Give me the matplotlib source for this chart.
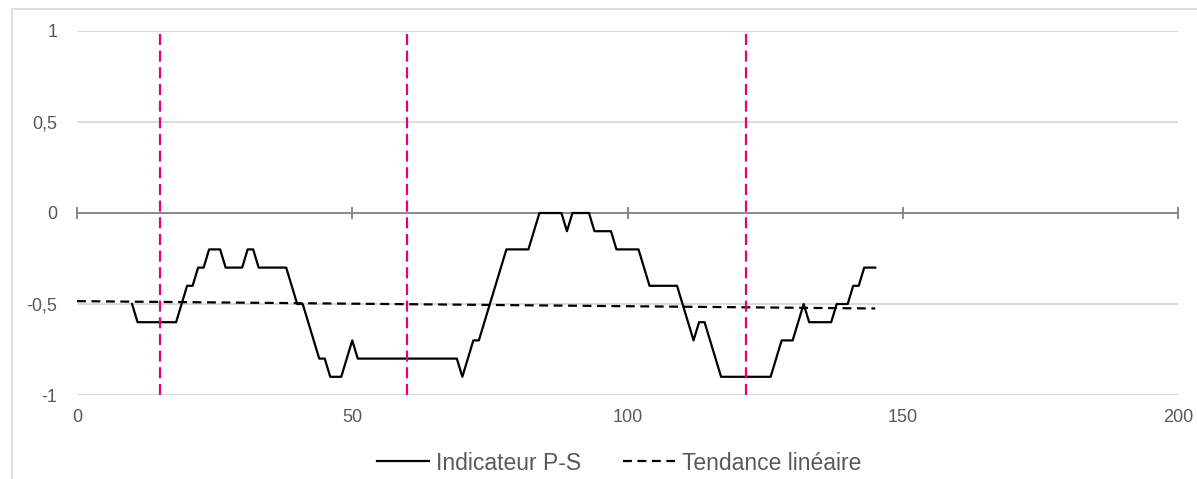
import numpy as np
import matplotlib
matplotlib.use("Agg")
import matplotlib.pyplot as plt
from matplotlib.patches import Rectangle

plt.rcParams['font.family'] = ['Liberation Sans', 'DejaVu Sans']

# Indicateur P-S, one value per step from x=10 to x=145
ps_x = list(range(10, 146))
ps_y = [
    -0.5, -0.6, -0.6, -0.6, -0.6, -0.6, -0.6, -0.6, -0.6, -0.5,   # 10-19
    -0.4, -0.4, -0.3, -0.3, -0.2, -0.2, -0.2, -0.3, -0.3, -0.3,   # 20-29
    -0.3, -0.2, -0.2, -0.3, -0.3, -0.3, -0.3, -0.3, -0.3, -0.4,   # 30-39
    -0.5, -0.5, -0.6, -0.7, -0.8, -0.8, -0.9, -0.9, -0.9, -0.8,   # 40-49
    -0.7, -0.8, -0.8, -0.8, -0.8, -0.8, -0.8, -0.8, -0.8, -0.8,   # 50-59
    -0.8, -0.8, -0.8, -0.8, -0.8, -0.8, -0.8, -0.8, -0.8, -0.8,   # 60-69
    -0.9, -0.8, -0.7, -0.7, -0.6, -0.5, -0.4, -0.3, -0.2, -0.2,   # 70-79
    -0.2, -0.2, -0.2, -0.1, 0.0, 0.0, 0.0, 0.0, 0.0, -0.1,        # 80-89
    0.0, 0.0, 0.0, 0.0, -0.1, -0.1, -0.1, -0.1, -0.2, -0.2,       # 90-99
    -0.2, -0.2, -0.2, -0.3, -0.4, -0.4, -0.4, -0.4, -0.4, -0.4,   # 100-109
    -0.5, -0.6, -0.7, -0.6, -0.6, -0.7, -0.8, -0.9, -0.9, -0.9,   # 110-119
    -0.9, -0.9, -0.9, -0.9, -0.9, -0.9, -0.9, -0.8, -0.7, -0.7,   # 120-129
    -0.7, -0.6, -0.5, -0.6, -0.6, -0.6, -0.6, -0.6, -0.5, -0.5,   # 130-139
    -0.5, -0.4, -0.4, -0.3, -0.3, -0.3,                           # 140-145
]

# linear trend drawn from 0 to the last point
trend_x = [0, 145]

# pink markers
marker_x = [15, 60, 121.5]

x_ticks = [0, 50, 100, 150, 200]
y_ticks = [-1, -0.5, 0, 0.5, 1]
y_labels = ['-1', '-0,5', '0', '0,5', '1']

fig = plt.figure(figsize=(11.97, 4.79), dpi=100)
ax = fig.add_axes([77 / 1197, 1 - 395 / 479, (1178 - 77) / 1197, (395 - 31) / 479])

# chart area border (only left and top visible in the crop)
fig.patches.append(Rectangle((12 / 1197, -0.1), 1.2, 1.1 - 9 / 479,
                             transform=fig.transFigure, fill=False,
                             edgecolor='#d9d9d9', linewidth=1.2, zorder=0))

ax.set_xlim(0, 200)
ax.set_ylim(-1, 1)

for yv in y_ticks:
    if yv != 0:
        ax.axhline(yv, color='#d9d9d9', linewidth=1.3, zorder=1)

for s in ax.spines.values():
    s.set_visible(False)

ax.set_xticks(x_ticks)
ax.set_xticklabels([str(v) for v in x_ticks])
ax.set_yticks(y_ticks)
ax.set_yticklabels(y_labels)
ax.tick_params(axis='both', length=0, labelsize=13, labelcolor='#595959')
ax.tick_params(axis='x', pad=10)
ax.tick_params(axis='y', pad=14)

# horizontal axis drawn at y=0 with crossing ticks
sec = ax.secondary_xaxis(0.5)
for s in sec.spines.values():
    s.set_color('#808080')
    s.set_linewidth(1.3)
sec.set_xticks(x_ticks)
sec.set_xticklabels([])
sec.tick_params(axis='x', direction='inout', length=9, width=1.3,
                color='#808080', labelbottom=False, labeltop=False)

ps_line, = ax.plot(ps_x, ps_y, color='black', linewidth=1.6, zorder=4,
                   label='Indicateur P-S')

coef = np.polyfit(ps_x, ps_y, 1)
trend_y = np.polyval(coef, trend_x)
trend_line, = ax.plot(trend_x, trend_y, color='black', linewidth=1.6,
                      linestyle=(0, (4, 2.5)), zorder=3,
                      label='Tendance linéaire')

for mx in marker_x:
    ax.axvline(mx, color='#e6007e', linewidth=1.6, linestyle=(0, (5, 2.5)),
               zorder=5)

fig.legend(handles=[ps_line, trend_line], loc='center',
           bbox_to_anchor=(619 / 1197, 1 - 463 / 479), ncol=2, frameon=False,
           fontsize=16.5, handlelength=2.3, handletextpad=0.3,
           columnspacing=1.8, labelcolor='#595959')

fig.savefig('out.png', dpi=100, facecolor='white')
